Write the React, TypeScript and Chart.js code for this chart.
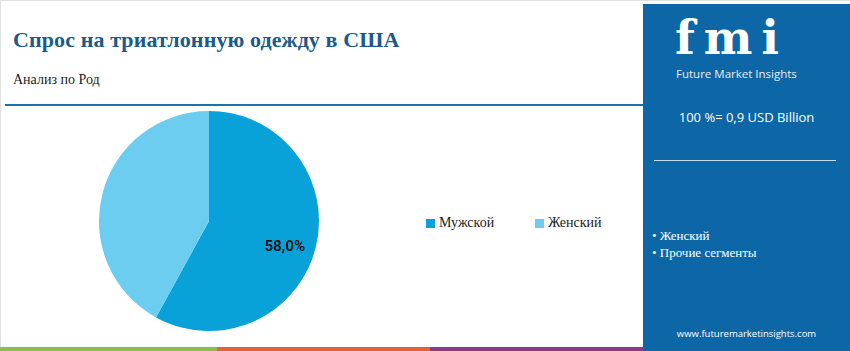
import React, { useEffect, useRef } from "react";
import { Chart, registerables } from "chart.js";
Chart.register(...registerables);

const categories = ["Мужской", "Женский"];
const shares = [58.0, 42.0];
const colors = ["#08a2d8", "#6dcdf1"];
const labelShown = [true, false];
const bullets = ["Женский", "Прочие сегменты"];

const labelPlugin = {
  id: "sliceLabels",
  afterDatasetsDraw(chart: any) {
    const { ctx } = chart;
    const meta = chart.getDatasetMeta(0);
    meta.data.forEach((arc: any, i: number) => {
      if (!labelShown[i]) return;
      const p = arc.getProps(["x", "y", "startAngle", "endAngle", "outerRadius"], true);
      const mid = (p.startAngle + p.endAngle) / 2;
      const r = p.outerRadius * 0.72;
      const x = p.x + Math.cos(mid) * r - 1;
      const y = p.y + Math.sin(mid) * r + 7;
      ctx.save();
      ctx.font = "bold 15px Roboto, 'DejaVu Sans', sans-serif";
      ctx.fillStyle = "#111";
      ctx.textAlign = "center";
      ctx.textBaseline = "middle";
      ctx.fillText(shares[i].toFixed(1).replace(".", ",") + "%", x, y);
      ctx.restore();
    });
  },
};

export default function App() {
  const ref = useRef<HTMLCanvasElement>(null);
  useEffect(() => {
    document.body.style.margin = "0";
    const chart = new Chart(ref.current!, {
      type: "pie",
      data: {
        labels: categories,
        datasets: [{ data: shares, backgroundColor: colors, borderWidth: 0 }],
      },
      options: {
        animation: false,
        responsive: false,
        maintainAspectRatio: false,
        layout: { padding: 0 },
        plugins: { legend: { display: false }, tooltip: { enabled: false } },
      },
      plugins: [labelPlugin],
    });
    return () => chart.destroy();
  }, []);

  const serif = "'Liberation Serif', serif";
  return (
    <div style={{ position: "fixed", left: 0, top: 0, width: 850, height: 351, background: "#fff", overflow: "hidden", fontFamily: serif }}>
      <div style={{ position: "absolute", left: 0, top: 0, width: 849, height: 350, border: "1px solid #e2e2e2", borderRight: "none", borderBottom: "none" }} />
      <div style={{ position: "absolute", left: 13, top: 27, fontSize: 22, fontWeight: "bold", color: "#1a5b8c", whiteSpace: "nowrap", fontFamily: serif, letterSpacing: 0.1 }}>
        Спрос на триатлонную одежду в США
      </div>
      <div style={{ position: "absolute", left: 13, top: 72, fontSize: 14, color: "#222", whiteSpace: "nowrap" }}>Анализ по Род</div>
      <div style={{ position: "absolute", left: 5, top: 104, width: 640, height: 2, background: "#1f6fa8" }} />
      <canvas ref={ref} width={220} height={220} style={{ position: "absolute", left: 99, top: 111, width: 220, height: 220 }} />
      {categories.map((c, i) => (
        <div key={c} style={{ position: "absolute", left: 426 + i * 109, top: 215, display: "flex", alignItems: "center", fontSize: 14, color: "#222", whiteSpace: "nowrap" }}>
          <span style={{ display: "inline-block", width: 9, height: 9, background: colors[i], marginRight: 4 }} />
          {c}
        </div>
      ))}
      <div style={{ position: "absolute", left: 0, top: 347, width: 217, height: 4, background: "#8dbd4f" }} />
      <div style={{ position: "absolute", left: 217, top: 347, width: 213, height: 4, background: "#e0643a" }} />
      <div style={{ position: "absolute", left: 430, top: 347, width: 213, height: 4, background: "#8a3a8c" }} />
      <div style={{ position: "absolute", left: 643, top: 4, width: 207, height: 347, background: "#0d66a6", color: "#fff" }}>
        <div style={{ position: "absolute", left: 32, top: 11, fontSize: 46, fontWeight: "bold", fontFamily: "'DejaVu Serif', serif", lineHeight: "46px", letterSpacing: 9 }}>fmi</div>
        <div style={{ position: "absolute", left: 33, top: 63, fontSize: 11.5, fontFamily: "'Open Sans', sans-serif", color: "#e6eef6", lineHeight: "14px" }}>Future Market Insights</div>
        <div style={{ position: "absolute", left: 0, width: 207, top: 104, fontSize: 13, textAlign: "center", fontFamily: "'Open Sans', sans-serif" }}>100 %= 0,9 USD Billion</div>
        <div style={{ position: "absolute", left: 11, top: 156, width: 182, height: 1, background: "#c9dcec" }} />
        {bullets.map((b, i) => (
          <div key={b} style={{ position: "absolute", left: 9, top: 224 + i * 17, fontSize: 13, whiteSpace: "nowrap" }}>• {b}</div>
        ))}
        <div style={{ position: "absolute", left: 0, width: 207, top: 323, fontSize: 9.5, textAlign: "center", fontFamily: "'Open Sans', sans-serif" }}>www.futuremarketinsights.com</div>
      </div>
    </div>
  );
}
